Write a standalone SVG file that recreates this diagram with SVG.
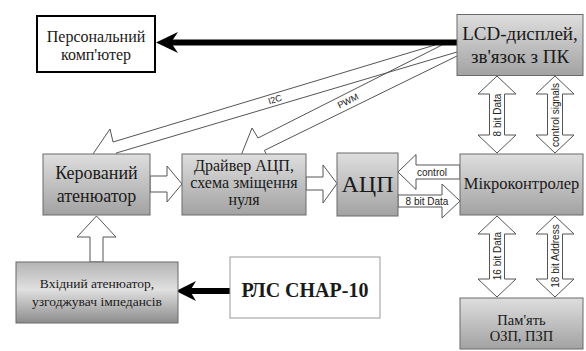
<svg xmlns="http://www.w3.org/2000/svg" width="586" height="351" viewBox="0 0 586 351">
<style>
.box{fill:url(#g1);stroke:#6a6a6a;stroke-width:1}
.t{font-family:'Liberation Serif','DejaVu Serif','Times New Roman',serif;fill:#1a1a1a;text-anchor:middle}
.s{font-family:'Liberation Sans','DejaVu Sans',Arial,sans-serif;fill:#222;text-anchor:middle;font-size:10px}
.ha{fill:#fff;stroke:#555;stroke-width:1;stroke-linejoin:miter}
.da{fill:none;stroke:#555;stroke-width:1}
</style>
<defs>
<linearGradient id="g1" x1="0" y1="0" x2="0" y2="1">
<stop offset="0" stop-color="#dedede"/>
<stop offset="1" stop-color="#a2a2a2"/>
</linearGradient>
<linearGradient id="g2" x1="0" y1="0" x2="0" y2="1">
<stop offset="0" stop-color="#b4b4b4"/>
<stop offset="0.45" stop-color="#e0e0e0"/>
<stop offset="1" stop-color="#8c8c8c"/>
</linearGradient>
</defs>
<rect width="586" height="351" fill="#fff"/>
<g id="connectors">
<path class="da" d="M435,45 L113,142 L110,129 L93,154 L121,165.5 L116.3,153 L457,52"/>
<path class="da" d="M442,45 L258,138 L252,128 L241.6,154.1 L269.6,160.8 L264.4,150.4 L457,56"/>
<text class="s" style="font-size:9px" transform="translate(275,99.5) rotate(-16.7)" dominant-baseline="central">I2C</text>
<text class="s" style="font-size:9px" transform="translate(348,101) rotate(-26.5)" dominant-baseline="central">PWM</text>
<line x1="457" y1="42.5" x2="168" y2="42.5" stroke="#000" stroke-width="6"/>
<polygon points="156,42.5 178,32 171,42.5 178,53" fill="#000"/>
<line x1="230" y1="291" x2="186" y2="291" stroke="#000" stroke-width="6"/>
<polygon points="176,291 196,281 190,291 196,301" fill="#000"/>
<polygon class="ha" points="150,176 167,176 167,166 182,184 167,202 167,192 150,192"/>
<polygon class="ha" points="306,177 323,177 323,165 337,183.5 323,203 323,190 306,190"/>
<polygon class="ha" points="460,165 416,165 416,154.5 398,172 416,189.5 416,179 460,179"/>
<text class="s" x="432" y="172" dominant-baseline="central">control</text>
<polygon class="ha" points="398,195 442,195 442,184 460,201 442,218 442,207 398,207"/>
<text class="s" x="427" y="201" dominant-baseline="central">8 bit Data</text>
<polygon class="ha" points="90,262 90,237 77,237 96.5,216 116,237 103,237 103,262"/>
<polygon class="ha" points="497,76 516,94 504.5,94 504.5,135 516,135 497,153 478,135 489.5,135 489.5,94 478,94"/>
<text class="s" transform="translate(497,115) rotate(-90)" dominant-baseline="central">8 bit Data</text>
<polygon class="ha" points="555,76 574,94 562.5,94 562.5,135 574,135 555,153 536,135 547.5,135 547.5,94 536,94"/>
<text class="s" transform="translate(555,115) rotate(-90)" dominant-baseline="central">control signals</text>
<polygon class="ha" points="497,216 516,234 504.5,234 504.5,279 516,279 497,297 478,279 489.5,279 489.5,234 478,234"/>
<text class="s" transform="translate(497,256) rotate(-90)" dominant-baseline="central">16 bit Data</text>
<polygon class="ha" points="555,216 574,234 562.5,234 562.5,279 574,279 555,297 536,279 547.5,279 547.5,234 536,234"/>
<text class="s" transform="translate(555,256) rotate(-90)" dominant-baseline="central">18 bit Address</text>
</g>
<g id="pc" font-family="Liberation Serif, serif">
<rect x="37" y="16" width="118" height="56" fill="#fff" stroke="#000" stroke-width="2"/>
<text class="t" x="96" y="42" font-size="16">Персональний</text>
<text class="t" x="96" y="60" font-size="16">комп'ютер</text>
</g>
<g id="lcd">
<rect class="box" x="457" y="14.5" width="126" height="61"/>
<text class="t" x="520" y="40" font-size="19">LCD-дисплей,</text>
<text class="t" x="520" y="63" font-size="19">зв'язок з ПК</text>
</g>
<g id="kerovanyi">
<rect class="box" x="43" y="154" width="107" height="61"/>
<text class="t" x="96.5" y="179" font-size="18">Керований</text>
<text class="t" x="96.5" y="202" font-size="18">атенюатор</text>
</g>
<g id="driver">
<rect class="box" x="182" y="154" width="124" height="61"/>
<text class="t" x="244" y="171" font-size="16">Драйвер АЦП,</text>
<text class="t" x="244" y="188" font-size="16">схема зміщення</text>
<text class="t" x="244" y="205" font-size="16">нуля</text>
</g>
<g id="adc">
<rect class="box" x="337" y="153" width="61" height="63"/>
<text class="t" x="367.5" y="192" font-size="24">АЦП</text>
</g>
<g id="mcu">
<rect class="box" x="460" y="154" width="123" height="61"/>
<text class="t" x="521.5" y="189" font-size="16.5">Мікроконтролер</text>
</g>
<g id="memory">
<rect class="box" x="460" y="298" width="123" height="51"/>
<text class="t" x="521.5" y="325" font-size="14.5">Пам'ять</text>
<text class="t" x="521.5" y="341" font-size="14.5">ОЗП, ПЗП</text>
</g>
<g id="vkhidnyi">
<rect x="16" y="262" width="162" height="61" fill="url(#g2)" stroke="#6a6a6a" stroke-width="1"/>
<text class="t" x="97" y="288" font-size="13.5">Вхідний атенюатор,</text>
<text class="t" x="97" y="306" font-size="13.5">узгоджувач імпедансів</text>
</g>
<g id="rls">
<rect x="230" y="257" width="150" height="61" fill="#fff" stroke="#999" stroke-width="1"/>
<text class="t" x="305" y="297" font-size="20" font-weight="bold">РЛС СНАР-10</text>
</g>
</svg>
